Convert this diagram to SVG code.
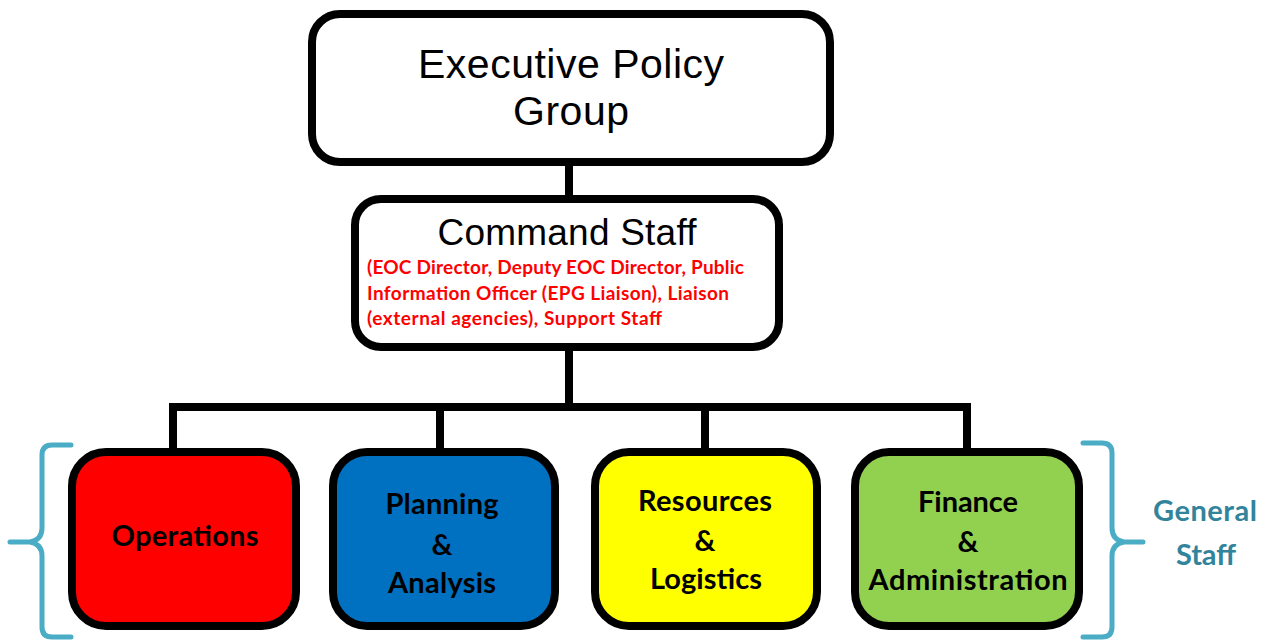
<svg xmlns="http://www.w3.org/2000/svg" width="1264" height="640" viewBox="0 0 1264 640">
<style>
.box{stroke:#000;stroke-width:8}
.conn{stroke:#000;stroke-width:8;fill:none}
.brace{stroke:#4BACC6;stroke-width:5;fill:none;stroke-linecap:round;stroke-linejoin:round}
.big{font-family:"Liberation Sans",Arial,sans-serif;fill:#000;text-anchor:middle}
.red{font-family:Lato,"Open Sans",sans-serif;font-weight:bold;fill:#FF0000;font-size:19px}
.lab{font-family:Lato,"Open Sans",sans-serif;font-weight:bold;fill:#000;font-size:29px;text-anchor:middle}
.gs{font-family:Lato,"Open Sans",sans-serif;font-weight:bold;fill:#31849B;font-size:29px;text-anchor:middle}
</style>
<rect width="1264" height="640" fill="#fff"/>
<g id="connectors">
<path class="conn" d="M569 163V198M569 347V407M173 407H967M173 403V452M440 403V452M705 403V452M967 403V452"/>
</g>
<g id="executive">
<rect class="box" x="312" y="14" width="518" height="148" rx="28" fill="#fff"/>
<text class="big" font-size="41" x="571" y="78" textLength="306">Executive Policy</text>
<text class="big" font-size="41" x="571" y="125" textLength="116">Group</text>
</g>
<g id="command">
<rect class="box" x="355" y="199" width="424" height="148" rx="26" fill="#fff"/>
<text class="big" font-size="37" x="567" y="245" textLength="259">Command Staff</text>
<text class="red" x="367" y="274" textLength="377">(EOC Director, Deputy EOC Director, Public</text>
<text class="red" x="367" y="300" textLength="362">Information Officer (EPG Liaison), Liaison</text>
<text class="red" x="367" y="325" textLength="295">(external agencies), Support Staff</text>
</g>
<g id="operations">
<rect class="box" x="72" y="452" width="224" height="174" rx="34" fill="#FF0000"/>
<text class="lab" x="185" y="546" textLength="147">Operations</text>
</g>
<g id="planning">
<rect class="box" x="333" y="452" width="222" height="174" rx="34" fill="#0070C0"/>
<text class="lab" x="442" y="514" textLength="113">Planning</text>
<text class="lab" x="442" y="555">&amp;</text>
<text class="lab" x="442" y="593" textLength="108">Analysis</text>
</g>
<g id="resources">
<rect class="box" x="595" y="452" width="222" height="174" rx="34" fill="#FFFF00"/>
<text class="lab" x="705" y="511" textLength="134">Resources</text>
<text class="lab" x="705" y="551">&amp;</text>
<text class="lab" x="706" y="589" textLength="112">Logistics</text>
</g>
<g id="finance">
<rect class="box" x="855" y="452" width="224" height="174" rx="34" fill="#92D050"/>
<text class="lab" x="968" y="512" textLength="100">Finance</text>
<text class="lab" x="968" y="552">&amp;</text>
<text class="lab" x="968" y="590" textLength="199">Administration</text>
</g>
<g id="braces">
<path class="brace" d="M71 445H52Q42 445 42 455V528Q42 540 30 542H10M30 542Q42 544 42 556V627Q42 637 52 637H71"/>
<path class="brace" d="M1083 443H1102Q1112 443 1112 453V528Q1112 540 1124 542H1143M1124 542Q1112 544 1112 556V627Q1112 637 1102 637H1083"/>
</g>
<g id="general-staff">
<text class="gs" x="1205" y="521" textLength="104">General</text>
<text class="gs" x="1206" y="565" textLength="60">Staff</text>
</g>
</svg>
